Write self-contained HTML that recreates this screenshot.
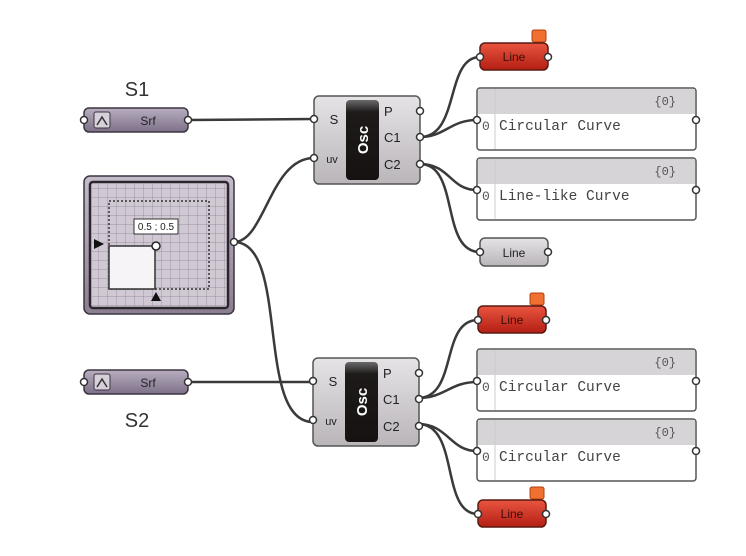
<!DOCTYPE html>
<html><head><style>body{margin:0;background:#fff}svg{display:block}</style></head><body>
<svg width="746" height="556" viewBox="0 0 746 556" xmlns="http://www.w3.org/2000/svg" font-family="Liberation Sans, sans-serif">
<defs>
<linearGradient id="gp" x1="0" y1="0" x2="0" y2="1"><stop offset="0" stop-color="#b8aec0"/><stop offset="1" stop-color="#7d7088"/></linearGradient>
<linearGradient id="gg" x1="0" y1="0" x2="0" y2="1"><stop offset="0" stop-color="#e6e3e6"/><stop offset="1" stop-color="#b9b5b9"/></linearGradient>
<linearGradient id="gr" x1="0" y1="0" x2="0" y2="1"><stop offset="0" stop-color="#e8553f"/><stop offset="1" stop-color="#b51e14"/></linearGradient>
<linearGradient id="gb" x1="0" y1="0" x2="0" y2="1"><stop offset="0" stop-color="#6a6a6a"/><stop offset="0.15" stop-color="#1e1a1a"/><stop offset="1" stop-color="#161212"/></linearGradient>
<linearGradient id="gpad" x1="0" y1="0" x2="0" y2="1"><stop offset="0" stop-color="#c4bcc8"/><stop offset="1" stop-color="#8a7e90"/></linearGradient>
<pattern id="grid" width="9" height="9" patternUnits="userSpaceOnUse"><path d="M9 0V9H0" fill="none" stroke="#8a7f90" stroke-width="0.7"/></pattern>
</defs>
<g fill="none" stroke="#3a3a3a" stroke-width="2.5">
<path d="M188 120 L314 119"/>
<path d="M188 382 L313 382"/>
<path d="M234 242 C265 242 270 158 314 158"/>
<path d="M234 242 C290 242 255 422 313 422"/>
<path d="M420 137 C460 137 445 57 480 57"/>
<path d="M420 137 C445 137 450 120 477 120"/>
<path d="M420 164 C450 164 450 190 477 190"/>
<path d="M420 164 C460 164 440 252 480 252"/>
<path d="M418 398 C458 398 440 320 478 320"/>
<path d="M418 398 C445 398 450 382 477 382"/>
<path d="M418 424 C448 424 450 451 477 451"/>
<path d="M418 424 C460 424 440 514 478 514"/>
</g>
<text x="137" y="96" font-size="20" text-anchor="middle" fill="#333">S1</text>
<text x="137" y="427" font-size="20" text-anchor="middle" fill="#333">S2</text>
<g id="srf">
<rect x="84" y="108" width="104" height="24" rx="5" fill="url(#gp)" stroke="#3b3540" stroke-width="1.5"/>
<rect x="94" y="112" width="16" height="16" rx="2" fill="#d7d0da" stroke="#3b3540"/>
<path d="M97 125 L102 117 L107 125" fill="none" stroke="#333" stroke-width="1.5"/>
<text x="148" y="125" font-size="12" text-anchor="middle" fill="#222">Srf</text>
<circle cx="84" cy="120" r="3.5" fill="#fff" stroke="#333" stroke-width="1.5"/>
<circle cx="188" cy="120" r="3.5" fill="#fff" stroke="#333" stroke-width="1.5"/>
</g>
<use href="#srf" y="262"/>
<rect x="84" y="176" width="150" height="138" rx="6" fill="url(#gpad)" stroke="#3b3540" stroke-width="1.5"/>
<rect x="90" y="182" width="138" height="126" rx="3" fill="#d0c9d3" stroke="#2b252e" stroke-width="2.5"/>
<rect x="92" y="184" width="134" height="122" fill="url(#grid)"/>
<rect x="109" y="201" width="100" height="88" fill="none" stroke="#333" stroke-width="1.5" stroke-dasharray="2,2"/>
<rect x="109" y="246" width="46" height="43" fill="#f6f4f7" stroke="#333" stroke-width="1.5"/>
<path d="M94 239 L104 244 L94 249Z" fill="#111"/>
<path d="M151 301 L156 292 L161 301Z" fill="#111"/>
<circle cx="156" cy="246" r="4" fill="#fff" stroke="#222" stroke-width="1.5"/>
<rect x="134" y="219" width="44" height="15" fill="#fff" stroke="#333"/>
<text x="156" y="230" font-size="10" text-anchor="middle" fill="#222">0.5 ; 0.5</text>
<circle cx="234" cy="242" r="3.5" fill="#fff" stroke="#333" stroke-width="1.5"/>
<g id="osc">
<rect x="314" y="96" width="106" height="88" rx="5" fill="url(#gg)" stroke="#555" stroke-width="1.5"/>
<rect x="346" y="100" width="33" height="80" rx="4" fill="url(#gb)"/>
<text transform="translate(368 140) rotate(-90)" font-size="15" font-weight="bold" text-anchor="middle" fill="#fff">Osc</text>
<text x="334" y="124" font-size="13" fill="#222" text-anchor="middle">S</text>
<text x="332" y="163" font-size="11" fill="#222" text-anchor="middle">uv</text>
<text x="384" y="116" font-size="13" fill="#222">P</text>
<text x="384" y="142" font-size="13" fill="#222">C1</text>
<text x="384" y="169" font-size="13" fill="#222">C2</text>
<g fill="#fff" stroke="#333" stroke-width="1.5"><circle cx="314" cy="119" r="3.5"/><circle cx="314" cy="158" r="3.5"/><circle cx="420" cy="111" r="3.5"/><circle cx="420" cy="137" r="3.5"/><circle cx="420" cy="164" r="3.5"/></g>
</g>
<use href="#osc" x="-1" y="262"/>
<g id="redline">
<rect x="532" y="30" width="14" height="12" rx="2" fill="#f07030" stroke="#b04010"/>
<rect x="480" y="43" width="68" height="27" rx="5" fill="url(#gr)" stroke="#5a1a12" stroke-width="1.5"/>
<text x="514" y="61" font-size="12" text-anchor="middle" fill="#3a0d08">Line</text>
<circle cx="480" cy="57" r="3.5" fill="#fff" stroke="#333" stroke-width="1.5"/>
<circle cx="548" cy="57" r="3.5" fill="#fff" stroke="#333" stroke-width="1.5"/>
</g>
<use href="#redline" x="-2" y="263"/>
<use href="#redline" x="-2" y="457"/>
<rect x="480" y="238" width="68" height="28" rx="5" fill="url(#gg)" stroke="#555" stroke-width="1.5"/>
<text x="514" y="257" font-size="12" text-anchor="middle" fill="#222">Line</text>
<circle cx="480" cy="252" r="3.5" fill="#fff" stroke="#333" stroke-width="1.5"/>
<circle cx="548" cy="252" r="3.5" fill="#fff" stroke="#333" stroke-width="1.5"/>
<g id="panel">
<rect x="477" y="88" width="219" height="62" rx="3" fill="#fff" stroke="#555" stroke-width="1.5"/>
<rect x="478" y="89" width="217" height="25" fill="#d6d4d6"/>
<line x1="495" y1="89" x2="495" y2="149" stroke="#ccc"/>
<text x="676" y="105" font-size="12" font-family="Liberation Mono, monospace" text-anchor="end" fill="#555">{0}</text>
<text x="482" y="130" font-size="13" font-family="Liberation Mono, monospace" fill="#555">0</text>
<circle cx="477" cy="120" r="3.5" fill="#fff" stroke="#333" stroke-width="1.5"/>
<circle cx="696" cy="120" r="3.5" fill="#fff" stroke="#333" stroke-width="1.5"/>
</g>
<g font-size="14.5" font-family="Liberation Mono, monospace" fill="#444">
<text x="499" y="130">Circular Curve</text>
<use href="#panel" y="70"/>
<text x="499" y="200">Line-like Curve</text>
<use href="#panel" y="261"/>
<text x="499" y="391">Circular Curve</text>
<use href="#panel" y="331"/>
<text x="499" y="461">Circular Curve</text>
</g>
</svg>
</body></html>
